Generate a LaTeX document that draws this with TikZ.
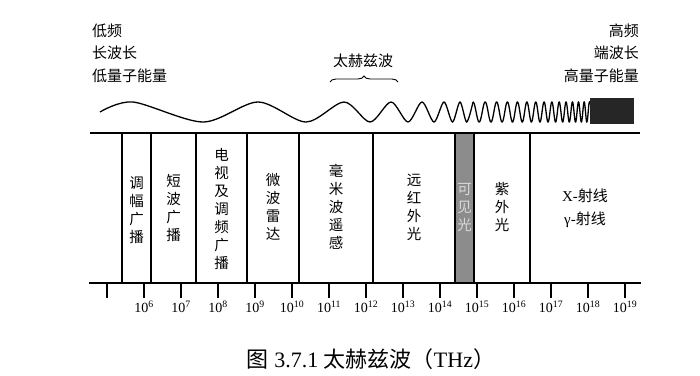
\documentclass[tikz,border=0pt]{standalone}
\usepackage{fontspec}
\setmainfont{Liberation Serif}
\newfontfamily\cjk{Noto Sans CJK SC}
\usetikzlibrary{decorations.pathreplacing}

\begin{document}
\begin{tikzpicture}[
		x=1pt, y=-1pt,
		band/.style={font=\cjk\fontsize{14.5}{18}\selectfont, align=center, inner sep=0pt},
		note/.style={font=\cjk\fontsize{15}{22.5}\selectfont, inner sep=0pt},
		ticklabel/.style={font=\fontsize{14}{16}\selectfont, inner sep=0pt},
		axis/.style={line width=1.6pt},
		divider/.style={line width=1.1pt},
		wave/.style={line width=1.3pt}
		]
		
		\useasboundingbox (0,0) rectangle (700,375);
		
		% Notes at both ends
		\node (low) [note, anchor=west, align=left] at (92,53) {低频\\长波长\\低量子能量};
		\node (high) [note, anchor=east, align=right] at (639,53) {高频\\端波长\\高量子能量};
		
		% THz brace
		\node (thz) [note] at (363,61) {太赫兹波};
		\draw[decorate, decoration={brace, amplitude=6pt}, line width=0.9pt] (330,82) -- (398,82);
		
		% Wave, getting faster to the right
		\draw[wave] plot[smooth] coordinates {(100,112) (133,102) (203,122) (258,102) (306,122) (344,102) (370,122) (391,102) (408,122) (422,102) (434,122) (444,102) (452.5,122) (460,102) (466.7,122) (473,102)};
		\draw[wave] plot[domain=0:117, samples=700] ({473+\x}, {112-10*cos(5625*ln(1-0.005079*\x))});
		\fill[black!85] (590,98) rectangle (634,124);
		
		% Scale
		\fill[gray!90] (455,133) rectangle (474,283);
		\draw[axis] (90,133) -- (640,133);
		\draw[axis] (89,283) -- (641,283);
		\foreach \x in {122,151,196,247,299,373,455,474,530}
			\draw[divider] (\x,133) -- (\x,283);
		
		% Ticks
		\foreach \i in {0,...,14}
			\draw[divider] ({107+37*\i},283) -- ({107+37*\i},298);
		\foreach \e [count=\i] in {6,...,19}
			\node (t\e) [ticklabel] at ({107+37*\i},307) {10\textsuperscript{\e}};
		
		% Bands
		\node (am) [band] at (136.5,210) {调\\幅\\广\\播};
		\node (sw) [band] at (173.5,208) {短\\波\\广\\播};
		\node (tv) [band] at (221.5,209) {电\\视\\及\\调\\频\\广\\播};
		\node (radar) [band] at (273,207) {微\\波\\雷\\达};
		\node (mm) [band] at (336,207) {毫\\米\\波\\遥\\感};
		\node (fir) [band] at (414,207) {远\\红\\外\\光};
		\node (vis) [band, text=gray!30] at (464.5,207) {可\\见\\光};
		\node (uv) [band] at (502,207) {紫\\外\\光};
		\node (xray) [band, font=\fontsize{15}{23}\selectfont] at (585,208) {X-{\cjk 射线}\\γ-{\cjk 射线}};
		
		% Caption
		\node (cap) [font=\fontsize{22}{26}\selectfont] at (371,359) {{\cjk 图} 3.7.1 {\cjk 太赫兹波（}THz{\cjk ）}};
		
	\end{tikzpicture}
\end{document}
